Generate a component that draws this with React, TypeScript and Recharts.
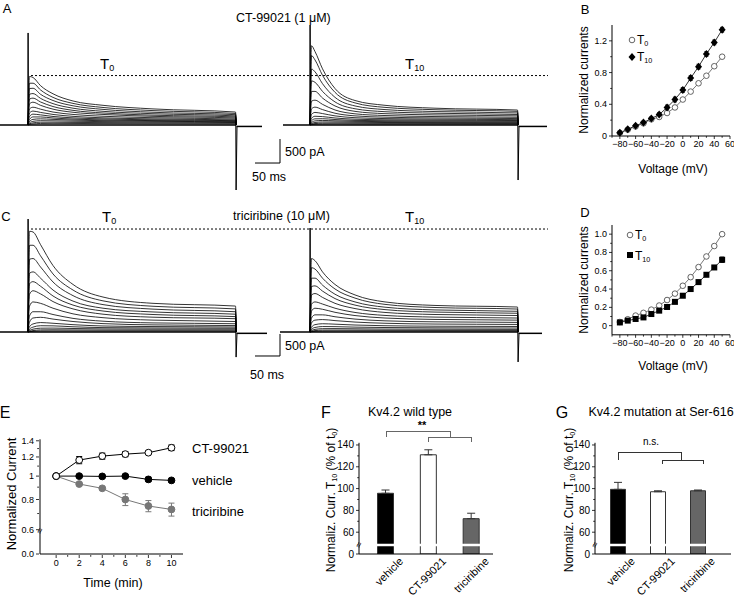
import React from "react";
import {
  Bar,
  BarChart,
  Cell,
  ErrorBar,
  Line,
  LineChart,
  ReferenceLine,
  XAxis,
  YAxis,
} from "recharts";

const FONT = "'Liberation Sans', Arial, Helvetica, sans-serif";

// ---------- A / C : whole-cell current traces ----------
// sample times inside the step (ms after onset)
const sweepTimes = [3, 10, 25, 50, 90, 150, 250, 415];

// one row per sweep (+50 mV down to -80 mV), pA
const a0Sweeps = [
  [1010, 990, 820, 650, 500, 410, 335, 270],
  [870, 870, 730, 575, 450, 365, 300, 240],
  [760, 765, 640, 510, 400, 325, 265, 215],
  [640, 655, 555, 445, 350, 285, 235, 190],
  [540, 560, 480, 385, 305, 250, 205, 168],
  [440, 475, 410, 330, 265, 220, 180, 146],
  [335, 370, 330, 270, 220, 182, 152, 124],
  [250, 290, 262, 220, 180, 150, 127, 105],
  [175, 226, 211, 178, 149, 127, 108, 90],
  [117, 168, 168, 146, 124, 106, 92, 77],
  [73, 117, 128, 117, 102, 89, 77, 66],
  [44, 76, 90, 87, 79, 70, 61, 52],
  [22, 44, 58, 58, 54, 50, 44, 38],
  [12, 22, 32, 34, 32, 29, 26, 23],
];
const a10Sweeps = [
  [1650, 1530, 1170, 760, 510, 410, 350, 312],
  [1445, 1355, 1035, 680, 460, 367, 318, 284],
  [1166, 1108, 860, 576, 397, 321, 280, 251],
  [919, 889, 700, 481, 338, 277, 245, 219],
  [700, 700, 561, 397, 284, 236, 210, 190],
  [496, 518, 430, 313, 233, 197, 176, 160],
  [335, 372, 321, 245, 190, 163, 147, 134],
  [219, 262, 238, 190, 152, 134, 122, 112],
  [139, 182, 175, 146, 121, 109, 101, 93],
  [87, 128, 131, 114, 96, 89, 83, 77],
  [51, 85, 95, 87, 76, 70, 66, 61],
  [29, 52, 64, 63, 57, 52, 50, 47],
  [15, 29, 39, 41, 38, 35, 34, 32],
  [7, 15, 20, 22, 20, 19, 19, 17],
];
const c0Sweeps = [
  [2290, 2274, 1988, 1511, 1081, 795, 652, 590],
  [1972, 1972, 1733, 1320, 954, 708, 585, 525],
  [1654, 1670, 1479, 1137, 827, 623, 520, 461],
  [1336, 1367, 1224, 954, 703, 541, 456, 405],
  [1097, 1145, 1041, 819, 612, 477, 398, 350],
  [859, 938, 867, 692, 525, 405, 337, 302],
  [588, 684, 652, 541, 413, 326, 270, 239],
  [366, 461, 461, 398, 310, 246, 207, 188],
  [223, 318, 334, 294, 239, 191, 162, 146],
  [119, 183, 215, 199, 167, 137, 124, 114],
  [64, 111, 143, 140, 119, 100, 92, 87],
  [32, 64, 87, 89, 80, 70, 65, 64],
  [16, 32, 48, 51, 48, 43, 41, 40],
  [8, 16, 24, 25, 24, 22, 21, 19],
];
const c10Sweeps = [
  [1670, 1622, 1367, 1081, 843, 684, 604, 568],
  [1463, 1431, 1224, 978, 771, 628, 557, 522],
  [1224, 1224, 1065, 859, 684, 564, 502, 471],
  [1034, 1049, 930, 760, 612, 509, 453, 426],
  [843, 875, 787, 652, 533, 445, 398, 375],
  [636, 684, 636, 541, 445, 377, 339, 318],
  [477, 541, 517, 448, 374, 318, 286, 270],
  [318, 390, 390, 347, 294, 254, 231, 219],
  [207, 270, 283, 259, 226, 199, 181, 172],
  [111, 167, 188, 178, 159, 143, 132, 126],
  [64, 103, 124, 122, 111, 102, 95, 91],
  [32, 60, 76, 78, 73, 67, 64, 60],
  [16, 32, 43, 45, 43, 40, 38, 37],
  [8, 16, 22, 24, 24, 22, 21, 19],
];

// capacitive transients [step on, step off], pA
const a0Spikes = [1917, -1354];
const a10Spikes = [2083, -1146];
const c0Spikes = [2568, -570];
const c10Spikes = [2364, -680];

// recorded span of each sweep set [start, end], ms
const a0Span = [-56, 468];
const a10Span = [-54, 474];
const c0Span = [-56, 478];
const c10Span = [-60, 464];

// dotted T0 peak line, pA
const aPeakRef = 1030;
const cPeakRef = 2341;

// ---------- B / D : I-V ----------
const ivVoltage = [-80, -70, -60, -50, -40, -30, -20, -10, 0, 10, 20, 30, 40, 50];
const bT0 = [0.04, 0.08, 0.12, 0.16, 0.21, 0.24, 0.29, 0.36, 0.46, 0.56, 0.665, 0.76, 0.88, 1.0];
const bT0Err = [0.01, 0.01, 0.01, 0.015, 0.015, 0.02, 0.02, 0.025, 0.02, 0.02, 0.015, 0.015, 0.015, 0.01];
const bT10 = [0.04, 0.085, 0.13, 0.17, 0.22, 0.27, 0.36, 0.46, 0.58, 0.73, 0.875, 1.035, 1.18, 1.34];
const bT10Err = [0.01, 0.01, 0.01, 0.015, 0.02, 0.025, 0.03, 0.03, 0.03, 0.03, 0.03, 0.03, 0.03, 0.03];
const dT0 = [0.04, 0.07, 0.11, 0.14, 0.175, 0.22, 0.28, 0.35, 0.436, 0.53, 0.64, 0.756, 0.87, 1.0];
const dT0Err = [0.01, 0.01, 0.01, 0.015, 0.015, 0.02, 0.02, 0.02, 0.02, 0.02, 0.015, 0.015, 0.015, 0.01];
const dT10 = [0.035, 0.055, 0.073, 0.09, 0.127, 0.164, 0.204, 0.26, 0.327, 0.4, 0.476, 0.556, 0.636, 0.72];
const dT10Err = [0.01, 0.01, 0.01, 0.01, 0.01, 0.015, 0.015, 0.015, 0.015, 0.015, 0.015, 0.02, 0.02, 0.03];

// ---------- E : time course ----------
const timeMin = [0, 2, 4, 6, 8, 10];
const ctCurr = [1.0, 1.165, 1.21, 1.233, 1.25, 1.31];
const ctErr = [0.005, 0.04, 0.035, 0.03, 0.02, 0.035];
const vehCurr = [1.0, 1.0, 0.997, 1.0, 0.969, 0.96];
const vehErr = [0.005, 0.01, 0.01, 0.015, 0.02, 0.015];
const triCurr = [1.0, 0.927, 0.89, 0.8, 0.752, 0.728];
const triErr = [0.005, 0.01, 0.01, 0.045, 0.04, 0.045];

// ---------- F / G : bars ----------
const conditions = ["vehicle", "CT-99021", "triciribine"];
const wtMean = [95.7, 131, 72.4];
const wtErr = [3, 4.6, 5];
const mutMean = [99.3, 97.1, 98];
const mutErr = [6.4, 0.9, 0.7];
const barFills = ["#000", "#fff", "#666"];

// ---------- helpers ----------
const Txt = ({ x, y, s = 12, a = "c", r = 0, w, children, st }: any) => (
  <div
    style={{
      position: "absolute",
      left: x,
      top: y,
      fontSize: s,
      lineHeight: 1,
      whiteSpace: "nowrap",
      fontWeight: w,
      transform: `translate(${a === "c" ? "-50%" : a === "r" ? "-100%" : "0"}, -50%) rotate(${r}deg)`,
      ...st,
    }}
  >
    {children}
  </div>
);
const Sub = ({ children }: any) => (
  <sub style={{ fontSize: "0.6em", verticalAlign: "-0.3em", lineHeight: 0 }}>{children}</sub>
);

const yTick = (minor: number[], fmt: (v: number) => string, fs: number, size = 3, margin = 2) =>
  (p: any) => {
    const v = p.payload.value;
    const ax = p.x + margin + size;
    const isMinor = minor.includes(v);
    return (
      <g>
        <line x1={ax - (isMinor ? size * 0.6 : size)} x2={ax} y1={p.y} y2={p.y} stroke="#000" strokeWidth={0.8} />
        {!isMinor && (
          <text x={p.x} y={p.y} textAnchor="end" dominantBaseline="central" fontSize={fs} fill="#000">
            {fmt(v)}
          </text>
        )}
      </g>
    );
  };

const xTick = (minor: number[], fmt: (v: number) => string, fs: number, size = 3, margin = 2) =>
  (p: any) => {
    const v = p.payload.value;
    const ay = p.y - margin - size;
    const isMinor = minor.includes(v);
    return (
      <g>
        <line x1={p.x} x2={p.x} y1={ay} y2={ay + (isMinor ? size * 0.6 : size)} stroke="#000" strokeWidth={0.8} />
        {!isMinor && (
          <text x={p.x} y={p.y} textAnchor="middle" dominantBaseline="hanging" fontSize={fs} fill="#000">
            {fmt(v)}
          </text>
        )}
      </g>
    );
  };

const signed = (v: number) => (v < 0 ? "\u2212" + -v : String(v));

function traceLines(tag: string, axis: string, sweeps: number[][], spikes: number[], span: number[]) {
  const out: React.ReactNode[] = [];
  const add = (key: string, data: any[], w: number, type: any = "linear") =>
    out.push(
      <Line
        key={tag + key}
        xAxisId={axis}
        data={data}
        dataKey="i"
        type={type}
        stroke="#000"
        strokeWidth={w}
        dot={false}
        isAnimationActive={false}
      />
    );
  add("base", [{ t: span[0], i: 0 }, { t: 416, i: 0 }], 1.6);
  add("post", [{ t: 417, i: -30 }, { t: span[1], i: -30 }], 1.5);
  sweeps.forEach((row, k) =>
    add(
      "s" + k,
      [{ t: 0, i: 0 }, ...sweepTimes.map((t, j) => ({ t, i: row[j] })), { t: 416.5, i: 0 }],
      0.8,
      "monotone"
    )
  );
  add("on", [{ t: -0.4, i: 0 }, { t: 0.2, i: spikes[0] }, { t: 1, i: 0 }], 1);
  add("off", [{ t: 415.6, i: 0 }, { t: 416.2, i: spikes[1] }, { t: 418, i: -30 }], 1);
  return out;
}

function TraceChart({ top, height, yDomain, left, right, peak, barY }: any) {
  return (
    <div style={{ position: "absolute", left: 0, top }}>
      <LineChart width={548} height={height} margin={{ top: 0, right: 0, bottom: 0, left: 0 }}>
        <XAxis xAxisId="a" type="number" dataKey="t" domain={[-56, 1040]} allowDataOverflow hide />
        <XAxis xAxisId="b" type="number" dataKey="t" domain={[-620, 476]} allowDataOverflow hide />
        <YAxis type="number" domain={yDomain} allowDataOverflow hide />
        {left}
        {right}
        <Line
          xAxisId="a"
          data={[{ t: 6, i: peak }, { t: 1040, i: peak }]}
          dataKey="i"
          stroke="#000"
          strokeWidth={1}
          strokeDasharray="2 2"
          dot={false}
          isAnimationActive={false}
        />
        <Line
          xAxisId="a"
          data={[{ t: 454, i: barY }, { t: 504, i: barY }, { t: 504, i: barY + 500 }]}
          dataKey="i"
          stroke="#000"
          strokeWidth={1}
          dot={false}
          isAnimationActive={false}
        />
      </LineChart>
    </div>
  );
}

function IVChart({ top, height, yDomain, yTicks, yMinor, t0, t0Err, t10, t10Err, square }: any) {
  const data = ivVoltage.map((v, k) => ({ v, t0: t0[k], t0e: t0Err[k], t10: t10[k], t10e: t10Err[k] }));
  const xTicks = [-90, -80, -70, -60, -50, -40, -30, -20, -10, 0, 10, 20, 30, 40, 50, 60];
  const xMinor = [-90, -70, -50, -30, -10, 10, 30, 50];
  return (
    <div style={{ position: "absolute", left: 577, top }}>
      <LineChart width={157} height={height} data={data} margin={{ top: 10, right: 4, bottom: 0, left: 0 }}>
        <XAxis
          dataKey="v"
          type="number"
          domain={[-90, 60]}
          ticks={xTicks}
          interval={0}
          allowDataOverflow
          height={18}
          tickLine={false}
          tickSize={3}
          tickMargin={2}
          axisLine={{ stroke: "#000" }}
          tick={xTick(xMinor, signed, 9)}
        />
        <YAxis
          type="number"
          domain={yDomain}
          ticks={yTicks}
          interval={0}
          allowDataOverflow
          width={35}
          tickLine={false}
          tickSize={3}
          tickMargin={2}
          axisLine={{ stroke: "#000" }}
          tick={yTick(yMinor, (v) => (v === 0 ? "0" : v.toFixed(1)), 9)}
        />
        <Line
          dataKey="t0"
          stroke="#555"
          strokeWidth={0.8}
          isAnimationActive={false}
          dot={(p: any) => (
            <circle key={"o" + p.index} cx={p.cx} cy={p.cy} r={2.8} fill="#fff" stroke="#555" strokeWidth={0.9} />
          )}
        >
          <ErrorBar dataKey="t0e" width={2} stroke="#555" strokeWidth={0.8} direction="y" />
        </Line>
        <Line
          dataKey="t10"
          stroke="#000"
          strokeWidth={0.8}
          isAnimationActive={false}
          dot={(p: any) =>
            square ? (
              <rect key={"s" + p.index} x={p.cx - 3} y={p.cy - 3} width={6} height={6} fill="#000" />
            ) : (
              <path
                key={"d" + p.index}
                d={`M${p.cx},${p.cy - 4}L${p.cx + 3.5},${p.cy}L${p.cx},${p.cy + 4}L${p.cx - 3.5},${p.cy}Z`}
                fill="#000"
              />
            )
          }
        >
          <ErrorBar dataKey="t10e" width={2} stroke="#000" strokeWidth={0.8} direction="y" />
        </Line>
      </LineChart>
    </div>
  );
}

const BarTick = (p: any) => {
  const ax = p.x + 18;
  const ay = p.y + 8;
  return (
    <text x={ax} y={ay} transform={`rotate(-45 ${ax} ${ay})`} textAnchor="end" fontSize={11} fill="#000">
      {p.payload.value}
    </text>
  );
};

function BarPanel({ left, width, mean, err, padL, padR, barSize }: any) {
  const data = conditions.map((name, k) => ({ name, v: mean[k], e: [0, err[k]] }));
  const yTicks = [40, 60, 70, 80, 90, 100, 110, 120, 130, 140];
  return (
    <div style={{ position: "absolute", left, top: 433 }}>
      <BarChart width={width} height={165} data={data} margin={{ top: 9.8, right: 2, left: 0, bottom: 0 }}>
        <XAxis
          dataKey="name"
          type="category"
          height={44}
          interval={0}
          tickLine={false}
          tickSize={0}
          tickMargin={0}
          padding={{ left: padL, right: padR }}
          axisLine={{ stroke: "#000" }}
          tick={BarTick}
        />
        <YAxis
          type="number"
          domain={[40, 142]}
          ticks={yTicks}
          interval={0}
          allowDataOverflow
          width={39}
          tickLine={false}
          tickSize={3}
          tickMargin={2}
          axisLine={{ stroke: "#000" }}
          tick={yTick([70, 90, 110, 130], (v) => (v === 40 ? "0" : String(v)), 10)}
        />
        <Bar dataKey="v" barSize={barSize} stroke="#333" strokeWidth={1} isAnimationActive={false}>
          {data.map((d, k) => (
            <Cell key={d.name} fill={barFills[k]} />
          ))}
          <ErrorBar dataKey="e" width={4} stroke="#333" strokeWidth={1} direction="y" />
        </Bar>
        <ReferenceLine y={48.3} stroke="#fff" strokeWidth={2.5} />
      </BarChart>
    </div>
  );
}

const Bracket = ({ x1, x2, y, drop, color }: any) => (
  <div
    style={{
      position: "absolute",
      left: x1,
      top: y,
      width: x2 - x1,
      height: drop,
      boxSizing: "border-box",
      borderTop: `1px solid ${color}`,
      borderLeft: `1px solid ${color}`,
      borderRight: `1px solid ${color}`,
    }}
  />
);

export default function App() {
  const eData = timeMin.map((t, k) => ({
    t,
    ct: ctCurr[k],
    ctE: ctErr[k],
    veh: vehCurr[k],
    vehE: vehErr[k],
    tri: triCurr[k],
    triE: triErr[k],
  }));
  const eYTicks = [0.476, 0.6, 0.7, 0.8, 0.9, 1, 1.1, 1.2, 1.3, 1.4];
  const eXTicks = [0, 1, 2, 3, 4, 5, 6, 7, 8, 9, 10];

  return (
    <div
      style={{
        position: "absolute",
        left: 0,
        top: 0,
        width: 734,
        height: 598,
        background: "#fff",
        fontFamily: FONT,
        color: "#000",
        overflow: "hidden",
      }}
    >
      {/* A */}
      <TraceChart
        top={20}
        height={175}
        yDomain={[-1458, 2187]}
        left={traceLines("a0", "a", a0Sweeps, a0Spikes, a0Span)}
        right={traceLines("a10", "b", a10Sweeps, a10Spikes, a10Span)}
        peak={aPeakRef}
        barY={-792}
      />
      {/* C */}
      <TraceChart
        top={212}
        height={178}
        yDomain={[-1318, 2728]}
        left={traceLines("c0", "a", c0Sweeps, c0Spikes, c0Span)}
        right={traceLines("c10", "b", c10Sweeps, c10Spikes, c10Span)}
        peak={cPeakRef}
        barY={-545}
      />
      <Txt x={7} y={8} s={13}>A</Txt>
      <Txt x={236} y={18} s={12.5} a="l">CT-99021 (1 μM)</Txt>
      <Txt x={100} y={63} s={15} a="l">T<Sub>0</Sub></Txt>
      <Txt x={405} y={63} s={15} a="l">T<Sub>10</Sub></Txt>
      <Txt x={285} y={152} s={12.5} a="l">500 pA</Txt>
      <Txt x={252} y={177} s={12.5} a="l">50 ms</Txt>

      <Txt x={6} y={216} s={13}>C</Txt>
      <Txt x={233} y={216} s={12.5} a="l">triciribine (10 μM)</Txt>
      <Txt x={102} y={216} s={15} a="l">T<Sub>0</Sub></Txt>
      <Txt x={405} y={216} s={15} a="l">T<Sub>10</Sub></Txt>
      <Txt x={285} y={346} s={12.5} a="l">500 pA</Txt>
      <Txt x={250} y={375} s={12.5} a="l">50 ms</Txt>

      {/* B */}
      <IVChart
        top={15}
        height={139}
        yDomain={[0, 1.4]}
        yTicks={[0, 0.2, 0.4, 0.6, 0.8, 1.0, 1.2]}
        yMinor={[0.2, 0.6, 1.0]}
        t0={bT0}
        t0Err={bT0Err}
        t10={bT10}
        t10Err={bT10Err}
        square={false}
      />
      <Txt x={585} y={9} s={13}>B</Txt>
      <Txt x={584} y={80} r={-90}>Normalized currents</Txt>
      <Txt x={673} y={169}>Voltage (mV)</Txt>
      <svg style={{ position: "absolute", left: 627, top: 35 }} width={10} height={28}>
        <circle cx={5} cy={5} r={2.8} fill="#fff" stroke="#555" strokeWidth={0.9} />
        <path d="M5,18L8.5,22L5,26L1.5,22Z" fill="#000" />
      </svg>
      <Txt x={637} y={40} a="l">T<Sub>0</Sub></Txt>
      <Txt x={637} y={57} a="l">T<Sub>10</Sub></Txt>

      {/* D */}
      <IVChart
        top={215.2}
        height={137.8}
        yDomain={[-0.1, 1.1]}
        yTicks={[0, 0.1, 0.2, 0.3, 0.4, 0.5, 0.6, 0.7, 0.8, 0.9, 1.0]}
        yMinor={[0.1, 0.3, 0.5, 0.7, 0.9]}
        t0={dT0}
        t0Err={dT0Err}
        t10={dT10}
        t10Err={dT10Err}
        square={true}
      />
      <Txt x={585} y={212} s={13}>D</Txt>
      <Txt x={584} y={280} r={-90}>Normalized currents</Txt>
      <Txt x={673} y={366}>Voltage (mV)</Txt>
      <svg style={{ position: "absolute", left: 625, top: 230 }} width={10} height={30}>
        <circle cx={5} cy={5} r={2.8} fill="#fff" stroke="#555" strokeWidth={0.9} />
        <rect x={2} y={22} width={6} height={6} fill="#000" />
      </svg>
      <Txt x={635} y={235} a="l">T<Sub>0</Sub></Txt>
      <Txt x={635} y={256} a="l">T<Sub>10</Sub></Txt>

      {/* E */}
      <div style={{ position: "absolute", left: 0, top: 430 }}>
        <LineChart width={200} height={144} data={eData} margin={{ top: 9.3, right: 17, bottom: 0, left: 0 }}>
          <XAxis
            dataKey="t"
            type="number"
            domain={[-1.4, 11]}
            ticks={eXTicks}
            interval={0}
            allowDataOverflow
            height={20}
            tickLine={false}
            tickSize={3}
            tickMargin={3}
            axisLine={{ stroke: "#000" }}
            tick={xTick([1, 3, 5, 7, 9], (v) => String(v), 9)}
          />
          <YAxis
            type="number"
            scale="log"
            domain={[0.476, 1.42]}
            ticks={eYTicks}
            interval={0}
            allowDataOverflow
            width={40}
            tickLine={false}
            tickSize={3}
            tickMargin={3}
            axisLine={{ stroke: "#000" }}
            tick={yTick([0.7, 0.9, 1.1, 1.3], (v) => (v === 0.476 ? "0.0" : v === 1 ? "1" : v.toFixed(1)), 9)}
          />
          <Line
            dataKey="tri"
            stroke="#777"
            strokeWidth={1}
            isAnimationActive={false}
            dot={(p: any) => <circle key={"t" + p.index} cx={p.cx} cy={p.cy} r={3.4} fill="#777" stroke="#777" />}
          >
            <ErrorBar dataKey="triE" width={3} stroke="#777" strokeWidth={1} direction="y" />
          </Line>
          <Line
            dataKey="veh"
            stroke="#000"
            strokeWidth={1}
            isAnimationActive={false}
            dot={(p: any) => <circle key={"v" + p.index} cx={p.cx} cy={p.cy} r={3.4} fill="#000" stroke="#000" />}
          >
            <ErrorBar dataKey="vehE" width={3} stroke="#000" strokeWidth={1} direction="y" />
          </Line>
          <Line
            dataKey="ct"
            stroke="#000"
            strokeWidth={1}
            isAnimationActive={false}
            dot={(p: any) => (
              <circle key={"c" + p.index} cx={p.cx} cy={p.cy} r={3.4} fill="#fff" stroke="#000" strokeWidth={1} />
            )}
          >
            <ErrorBar dataKey="ctE" width={3} stroke="#000" strokeWidth={1} direction="y" />
          </Line>
        </LineChart>
      </div>
      <Txt x={5} y={413} s={16}>E</Txt>
      <Txt x={11} y={494} s={13} r={-90}>Normalized Current</Txt>
      <Txt x={113} y={583} s={12.5}>Time (min)</Txt>
      <Txt x={192} y={448} s={13} a="l">CT-99021</Txt>
      <Txt x={192} y={480} s={13} a="l">vehicle</Txt>
      <Txt x={192} y={511} s={13} a="l">triciribine</Txt>
      <Txt x={40} y={531} s={10} r={-70}>≈</Txt>

      {/* F */}
      <BarPanel left={320} width={175} mean={wtMean} err={wtErr} padL={5.5} padR={0} barSize={16} />
      <Txt x={326} y={413} s={16}>F</Txt>
      <Txt x={410} y={412} s={12.5}>Kv4.2 wild type</Txt>
      <Txt x={331} y={500} s={12} r={-90}>
        Normaliz. Curr. T<Sub>10</Sub> (% of t<Sub>0</Sub>)
      </Txt>
      <Bracket x1={386} x2={451} y={431} drop={6} color="#666" />
      <Bracket x1={428} x2={472} y={437} drop={5} color="#666" />
      <Txt x={422} y={425} s={11} w="bold">**</Txt>
      <Txt x={359} y={545} s={10} r={-70}>≈</Txt>

      {/* G */}
      <BarPanel left={556} width={177} mean={mutMean} err={mutErr} padL={2.5} padR={13.5} barSize={15} />
      <Txt x={562} y={413} s={16}>G</Txt>
      <Txt x={661} y={412} s={12.5}>Kv4.2 mutation at Ser-616</Txt>
      <Txt x={569} y={500} s={12} r={-90}>
        Normaliz. Curr. T<Sub>10</Sub> (% of t<Sub>0</Sub>)
      </Txt>
      <Bracket x1={618} x2={682} y={452} drop={8} color="#333" />
      <Bracket x1={662} x2={704} y={460} drop={4} color="#333" />
      <Txt x={651} y={442} s={10}>n.s.</Txt>
      <Txt x={595} y={545} s={10} r={-70}>≈</Txt>
    </div>
  );
}
